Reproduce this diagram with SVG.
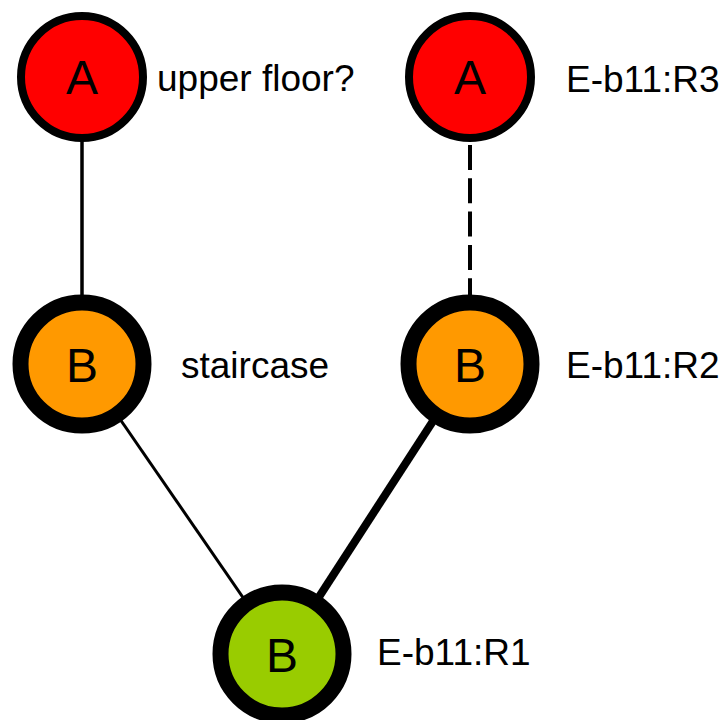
<svg xmlns="http://www.w3.org/2000/svg" width="726" height="720" viewBox="0 0 726 720">
<style>
.bg{fill:#fff}
.edge{stroke:#000;fill:none}
.na{stroke:#000;stroke-width:8}
.nb{stroke:#000;stroke-width:16}
.red{fill:#ff0000}
.orange{fill:#ff9900}
.green{fill:#99cc00}
.ltr{font-family:"Liberation Sans",Arial,sans-serif;font-size:48px;fill:#000;text-anchor:middle}
.lbl{font-family:"Liberation Sans",Arial,sans-serif;font-size:37px;fill:#000}
</style>
<rect class="bg" x="0" y="0" width="726" height="720"/>
<g id="connectors">
<line class="edge" x1="82" y1="77" x2="82" y2="364" stroke-width="3.5"/>
<line class="edge" x1="470" y1="145" x2="470" y2="300" stroke-width="4" stroke-dasharray="25 8.3"/>
<line class="edge" x1="82" y1="364" x2="282" y2="654" stroke-width="3"/>
<line class="edge" x1="470" y1="364" x2="282" y2="654" stroke-width="8"/>
</g>
<g id="node-a-left">
<circle class="na red" cx="82" cy="77" r="61"/>
<text class="ltr" x="82" y="94">A</text>
<text class="lbl" x="157" y="91">upper floor?</text>
</g>
<g id="node-a-right">
<circle class="na red" cx="470" cy="77" r="61"/>
<text class="ltr" x="470" y="94">A</text>
<text class="lbl" x="566" y="92">E-b11:R3</text>
</g>
<g id="node-b-left">
<circle class="nb orange" cx="82" cy="364" r="61.5"/>
<text class="ltr" x="82" y="382">B</text>
<text class="lbl" x="181" y="378">staircase</text>
</g>
<g id="node-b-right">
<circle class="nb orange" cx="470" cy="364" r="61.5"/>
<text class="ltr" x="470" y="382">B</text>
<text class="lbl" x="566" y="378">E-b11:R2</text>
</g>
<g id="node-b-bottom">
<circle class="nb green" cx="282" cy="654" r="61.5"/>
<text class="ltr" x="282" y="672">B</text>
<text class="lbl" x="377" y="665">E-b11:R1</text>
</g>
</svg>
